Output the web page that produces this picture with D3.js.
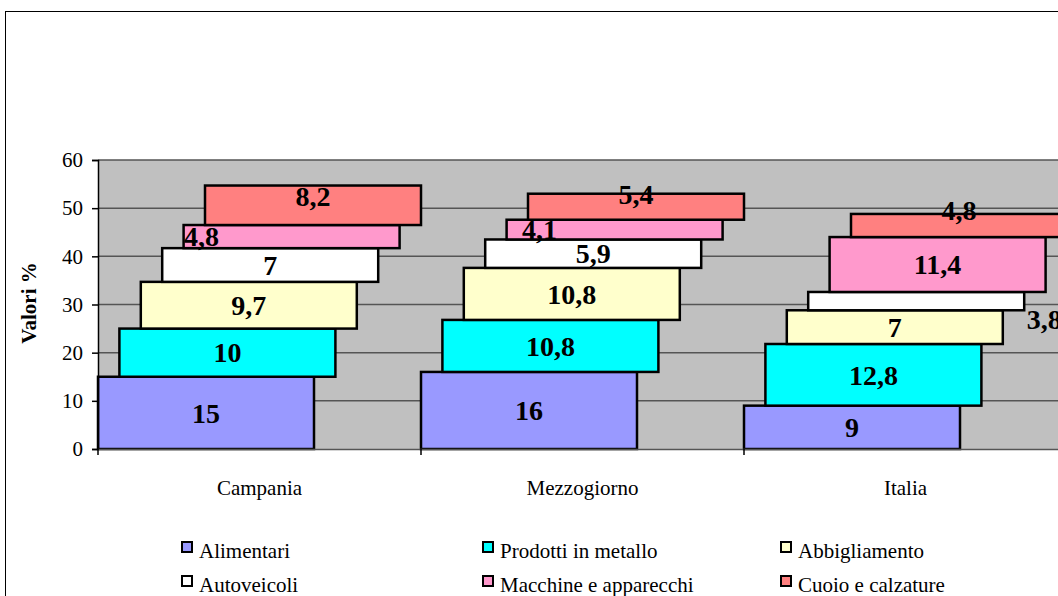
<!DOCTYPE html>
<html>
<head>
<meta charset="utf-8">
<script src="https://cdn.jsdelivr.net/npm/d3@7"></script>
<style>
  html, body { margin: 0; padding: 0; background: #fff; }
  svg { display: block; }
  svg text { font-family: "Liberation Serif", "Times New Roman", serif; }
</style>
</head>
<body>
<svg id="chart" width="1058" height="596"></svg>
<script>
// Regions on the x axis
const categories = ["Campania", "Mezzogiorno", "Italia"];

// Sectors, stacked from bottom to top
const seriesNames = ["Alimentari", "Prodotti in metallo", "Abbigliamento",
                     "Autoveicoli", "Macchine e apparecchi", "Cuoio e calzature"];

// Percent share of each sector, one value per region
const alimentari    = [15, 16, 9];
const prodotti      = [10, 10.8, 12.8];
const abbigliamento = [9.7, 10.8, 7];
const autoveicoli   = [7, 5.9, 3.8];
const macchine      = [4.8, 4.1, 11.4];
const cuoio         = [8.2, 5.4, 4.8];

const yTicks = [0, 10, 20, 30, 40, 50, 60];

const seriesValues = [alimentari, prodotti, abbigliamento, autoveicoli, macchine, cuoio];
const seriesColors = ["#9999ff", "#00ffff", "#ffffcc", "#ffffff", "#ff99cc", "#ff8080"];

// Label placement tweaks (px) for the crowded labels
const labelNudge = {
  "Campania|4": { dx: -90, dy: 0 },
  "Mezzogiorno|4": { dx: -75, dy: 0 },
  "Campania|5": { dx: 0, dy: -9 },
  "Mezzogiorno|5": { dx: 0, dy: -13 },
  "Italia|5": { dx: 0, dy: -15 },
  "Italia|3": { dx: 128, dy: 18 }
};

const svg = d3.select("#chart");

// Outer frame
svg.append("rect")
  .attr("x", 5.5).attr("y", 11.5)
  .attr("width", 1100).attr("height", 700)
  .attr("fill", "#fff").attr("stroke", "#000").attr("stroke-width", 1);

const plot = { left: 98, right: 1067, top: 160, bottom: 449 };

const x = d3.scaleBand().domain(categories).range([plot.left, plot.right]).padding(0);
const y = d3.scaleLinear().domain([0, 60]).range([plot.bottom, plot.top]);

const barW = x.bandwidth() * 216 / 323;
const shift = d3.scaleLinear()
  .domain([0, seriesNames.length - 1])
  .range([0, x.bandwidth() - barW]);

// Plot area background
svg.append("rect")
  .attr("x", plot.left).attr("y", plot.top)
  .attr("width", plot.right - plot.left).attr("height", plot.bottom - plot.top)
  .attr("fill", "#c0c0c0");

// Horizontal gridlines
svg.append("g").selectAll("line")
  .data(yTicks.filter(t => t > 0))
  .join("line")
  .attr("x1", plot.left).attr("x2", plot.right)
  .attr("y1", d => y(d)).attr("y2", d => y(d))
  .attr("stroke", "#555").attr("stroke-width", 1.5);

// Stack values
const stacked = categories.map((c, ci) => {
  let base = 0;
  return seriesValues.map((vals, si) => {
    const v = vals[ci];
    const r = { cat: c, si, v, y0: base, y1: base + v };
    base += v;
    return r;
  });
});
const bars = stacked.flat();

// Bars
svg.append("g").selectAll("rect")
  .data(bars)
  .join("rect")
  .attr("x", d => x(d.cat) + shift(d.si))
  .attr("y", d => y(d.y1))
  .attr("width", barW)
  .attr("height", d => y(d.y0) - y(d.y1))
  .attr("fill", d => seriesColors[d.si])
  .attr("stroke", "#000").attr("stroke-width", 2.5);

// Value labels
const fmt = v => String(v).replace(".", ",");
svg.append("g").selectAll("text")
  .data(bars)
  .join("text")
  .attr("x", d => {
    const n = labelNudge[d.cat + "|" + d.si];
    return x(d.cat) + shift(d.si) + barW / 2 + (n ? n.dx : 0);
  })
  .attr("y", d => {
    const n = labelNudge[d.cat + "|" + d.si];
    return (y(d.y0) + y(d.y1)) / 2 + (n ? n.dy : 0);
  })
  .attr("dy", "0.35em")
  .attr("text-anchor", "middle")
  .attr("font-size", 28).attr("font-weight", "bold")
  .attr("fill", "#000")
  .text(d => fmt(d.v));

// Y axis
const yAxis = svg.append("g")
  .attr("transform", `translate(${plot.left},0)`)
  .call(d3.axisLeft(y).tickValues(yTicks).tickSize(6).tickPadding(9));
yAxis.attr("font-family", null);
yAxis.select(".domain").attr("stroke", "#000").attr("stroke-width", 1.5);
yAxis.selectAll(".tick line").attr("stroke", "#000").attr("stroke-width", 1.5);
yAxis.selectAll(".tick text")
  .attr("font-size", 21).attr("fill", "#000");

// X axis
const xAxis = svg.append("g")
  .attr("transform", `translate(0,${plot.bottom})`)
  .call(d3.axisBottom(x).tickSize(0).tickPadding(31));
xAxis.attr("font-family", null);
xAxis.select(".domain").attr("stroke", "#555").attr("stroke-width", 1.5);
xAxis.selectAll(".tick text")
  .attr("font-size", 21).attr("fill", "#000");
// Category divider ticks
svg.append("g").selectAll("line")
  .data(categories)
  .join("line")
  .attr("x1", d => x(d)).attr("x2", d => x(d))
  .attr("y1", plot.bottom).attr("y2", plot.bottom + 6)
  .attr("stroke", "#000").attr("stroke-width", 1.5);

// Y axis title
svg.append("text")
  .attr("transform", `translate(36,303) rotate(-90)`)
  .attr("text-anchor", "middle")
  .attr("font-size", 21).attr("font-weight", "bold")
  .text("Valori %");

// Legend: three columns, two rows
const legendCols = [181, 482, 780];
const legendRows = [541, 575];
const legend = svg.append("g").selectAll("g")
  .data(seriesNames)
  .join("g")
  .attr("transform", (d, i) => `translate(${legendCols[i % 3]},${legendRows[Math.floor(i / 3)]})`);
legend.append("rect")
  .attr("x", 1).attr("y", 1).attr("width", 10).attr("height", 10)
  .attr("fill", (d, i) => seriesColors[i])
  .attr("stroke", "#000").attr("stroke-width", 2);
legend.append("text")
  .attr("x", 18).attr("y", 17)
  .attr("font-size", 21)
  .text(d => d);
</script>
</body>
</html>
